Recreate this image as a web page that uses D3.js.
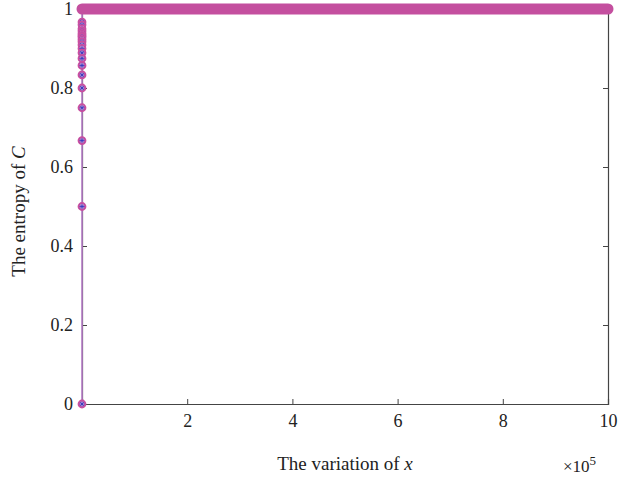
<!DOCTYPE html>
<html>
<head>
<meta charset="utf-8">
<script src="https://cdn.jsdelivr.net/npm/d3@7"></script>
<style>
  body { margin: 0; background: #fff; }
  text { font-family: "Liberation Serif", "DejaVu Serif", serif; fill: #222; }
</style>
</head>
<body>
<div id="chart"></div>
<script>
// first iterations: x = 1, 2, 3, ... (all sit at x ~ 0 on a 1e6 axis)
const leadX = [1, 2, 3, 4, 5, 6, 7, 8, 9, 10, 11, 12, 13, 14, 15, 16, 18, 20, 25, 30];
const leadY = [0, 0.5, 0.667, 0.75, 0.8, 0.833, 0.857, 0.875, 0.889, 0.9, 0.909, 0.917,
               0.923, 0.929, 0.933, 0.938, 0.944, 0.95, 0.96, 0.967];
// the rest of the run stays at entropy 1 (drawn as a dense marker band)
const bandX = [40, 100000, 200000, 300000, 400000, 500000, 600000, 700000, 800000, 900000, 1000000];
const bandY = [1, 1, 1, 1, 1, 1, 1, 1, 1, 1, 1];
const xTicks = [200000, 400000, 600000, 800000, 1000000];
const yTicks = [0, 0.2, 0.4, 0.6, 0.8, 1];

const width = 628, height = 482;
const margin = {top: 9, right: 20, bottom: 78, left: 82};

const svg = d3.select("#chart").append("svg")
    .attr("width", width)
    .attr("height", height);

const x = d3.scaleLinear().domain([0, 1000000]).range([margin.left, width - margin.right]);
const y = d3.scaleLinear().domain([0, 1]).range([height - margin.bottom, margin.top]);

// axes box
const x0 = x.range()[0], x1 = x.range()[1], y0 = y.range()[0], y1 = y.range()[1];

const xAxis = svg.append("g")
    .attr("transform", `translate(0, ${y0})`)
    .call(d3.axisBottom(x).tickValues(xTicks).tickFormat(d => d / 100000).tickSize(-5).tickPadding(10));
const yAxis = svg.append("g")
    .attr("transform", `translate(${x0}, 0)`)
    .call(d3.axisLeft(y).tickValues(yTicks).tickFormat(d3.format("")).tickSize(-5).tickPadding(9));
const yAxisR = svg.append("g")
    .attr("transform", `translate(${x1}, 0)`)
    .call(d3.axisRight(y).tickValues(yTicks).tickFormat("").tickSize(-5));
const xAxisT = svg.append("g")
    .attr("transform", `translate(0, ${y1})`)
    .call(d3.axisTop(x).tickValues(xTicks).tickFormat("").tickSize(-5));

[xAxis, yAxis, yAxisR, xAxisT].forEach(g => {
  g.select(".domain").attr("stroke", "#444").attr("stroke-width", 1.2);
  g.selectAll(".tick line").attr("stroke", "#444");
  g.selectAll(".tick text").attr("font-size", 18).attr("fill", "#222")
    .style("font-family", "'Liberation Serif', serif");
});

// connecting line
const pts = leadX.map((d, i) => [d, leadY[i]]).concat(bandX.map((d, i) => [d, bandY[i]]));
svg.append("path")
    .datum(pts)
    .attr("fill", "none")
    .attr("stroke", "#b77ec9")
    .attr("stroke-width", 1.6)
    .attr("d", d3.line().x(d => x(d[0])).y(d => y(d[1])));

// dense band of markers at entropy 1
svg.append("path")
    .datum(bandX.map((d, i) => [d, bandY[i]]))
    .attr("fill", "none")
    .attr("stroke", "#c44f9f")
    .attr("stroke-width", 11)
    .attr("stroke-linecap", "round")
    .attr("d", d3.line().x(d => x(d[0])).y(d => y(d[1])));

// circle + asterisk markers for the first iterations
const lead = leadX.map((d, i) => ({x: d, y: leadY[i]})).reverse();
const mk = svg.append("g").selectAll("g")
    .data(lead)
    .join("g")
    .attr("transform", d => `translate(${x(d.x)}, ${y(d.y)})`);
mk.append("circle")
    .attr("r", 3.4)
    .attr("fill", "#e6b8dc")
    .attr("stroke", "#c94fa0")
    .attr("stroke-width", 2);
[0, 45, 90, 135].forEach(a => {
  mk.append("line")
    .attr("x1", -2.6).attr("x2", 2.6)
    .attr("transform", `rotate(${a})`)
    .attr("stroke", "#3b3bc0")
    .attr("stroke-width", 0.9);
});

// labels
svg.append("text")
    .attr("x", 345).attr("y", 470)
    .attr("text-anchor", "middle")
    .attr("font-size", 19)
    .html('The variation of <tspan font-style="italic">x</tspan>');

const ex = svg.append("text")
    .attr("x", 563).attr("y", 472)
    .attr("font-size", 17);
ex.append("tspan").text("\u00d710");
ex.append("tspan").attr("dy", -7).attr("font-size", 13).text("5");

svg.append("text")
    .attr("transform", `translate(25, ${(y0 + y1) / 2 + 5}) rotate(-90)`)
    .attr("text-anchor", "middle")
    .attr("font-size", 19)
    .html('The entropy of <tspan font-style="italic">C</tspan>');
</script>
</body>
</html>
